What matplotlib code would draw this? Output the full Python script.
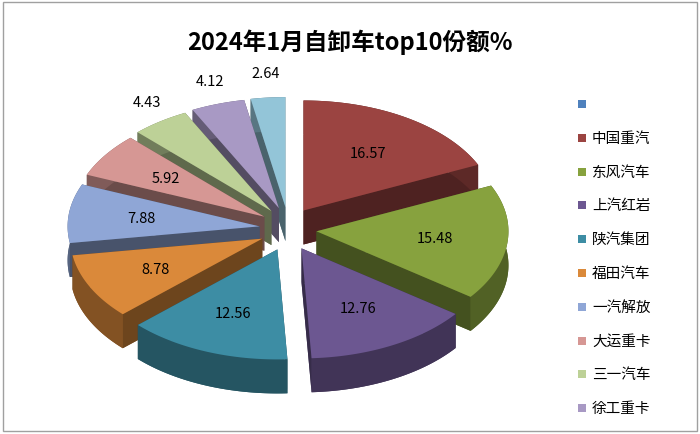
import numpy as np
import matplotlib
matplotlib.use("Agg")
import matplotlib.pyplot as plt
from matplotlib import font_manager as fm
from matplotlib.patches import Polygon, Rectangle
from matplotlib.colors import to_rgb

cjk = [f for f in fm.findSystemFonts() if 'cjk' in f.lower()]
fams = []
for f in cjk:
    try:
        fm.fontManager.addfont(f)
        fams.append(fm.FontProperties(fname=f).get_name())
    except Exception:
        pass
pref = [n for n in fams if 'Sans' in n and 'SC' in n] + [n for n in fams if 'Sans' in n] + fams
plt.rcParams['font.family'] = (pref[:1] if pref else []) + ['DejaVu Sans']

title = "2024年1月自卸车top10份额%"
legend_labels = ["", "中国重汽", "东风汽车", "上汽红岩", "陕汽集团", "福田汽车", "一汽解放", "大运重卡", "三一汽车", "徐工重卡"]
slice_values = [16.57, 15.48, 12.76, 12.56, 8.78, 7.88, 5.92, 4.43, 4.12, 2.64]
slice_colors = ["#9B4441", "#87A23E", "#6C5791", "#3D8DA4", "#DA893A", "#8FA6D6", "#D69794", "#BDD197", "#A899C4", "#93C5D8"]
blank_color = "#4F81BD"

fig = plt.figure(figsize=(7, 4.35), dpi=100)
ax = fig.add_axes([0, 0, 1, 1])
ax.set_xlim(0, 700); ax.set_ylim(0, 435); ax.axis('off')
ax.add_patch(Rectangle((3, 3), 694, 429, fill=False, ec="#A0A0A0", lw=1))
ax.text(350, 393, title, ha='center', va='center', fontsize=17, fontweight='bold')

cx, cy, rx, ry, depth, expl = 288, 205, 192, 110, 34, 22
total = sum(slice_values)

def dark(c, f=0.6):
    return tuple(v * f for v in to_rgb(c))

slices = []
cum = 0
for v, c in zip(slice_values, slice_colors):
    t0 = 90 - cum / total * 360
    cum += v
    t1 = 90 - cum / total * 360
    slices.append((np.radians(t1), np.radians(t0), v, c))

def draw(s):
    a0, a1, v, c = s
    m = (a0 + a1) / 2
    ox, oy = cx + expl * np.cos(m) * 1.3, cy + expl * np.sin(m)
    ts = np.linspace(a0, a1, 60)
    xs = ox + rx * np.cos(ts); ys = oy + ry * np.sin(ts)
    top = np.column_stack([np.r_[ox, xs], np.r_[oy, ys]])
    bot = top - [0, depth]
    d = dark(c)
    ax.add_patch(Polygon(bot, closed=True, fc=d, ec='none'))
    for a in (a0, a1):
        px, py = ox + rx * np.cos(a), oy + ry * np.sin(a)
        ax.add_patch(Polygon([(ox, oy), (px, py), (px, py - depth), (ox, oy - depth)], fc=dark(c, 0.5), ec='none'))
    side = np.r_[np.column_stack([xs, ys]), np.column_stack([xs, ys - depth])[::-1]]
    ax.add_patch(Polygon(side, fc=d, ec='none'))
    ax.add_patch(Polygon(top, closed=True, fc=c, ec='none'))
    if v < 5:
        lx, ly = ox + 1.12 * rx * np.cos(m), oy + 1.22 * ry * np.sin(m)
    else:
        lx, ly = ox + 0.62 * rx * np.cos(m), oy + 0.62 * ry * np.sin(m)
    ax.text(lx, ly, f"{v:.2f}", ha='center', va='center', fontsize=10.5)

for s in sorted(slices, key=lambda s: -np.sin((s[0] + s[1]) / 2)):
    draw(s)

ly0, dy = 330, 33.8
for i, lab in enumerate(legend_labels):
    col = blank_color if i == 0 else slice_colors[i - 1]
    y = ly0 - i * dy
    ax.add_patch(Rectangle((578, y - 4), 8, 8, fc=col, ec='none'))
    ax.text(592, y, lab, va='center', ha='left', fontsize=10.5)

fig.savefig("out.png", dpi=100)
